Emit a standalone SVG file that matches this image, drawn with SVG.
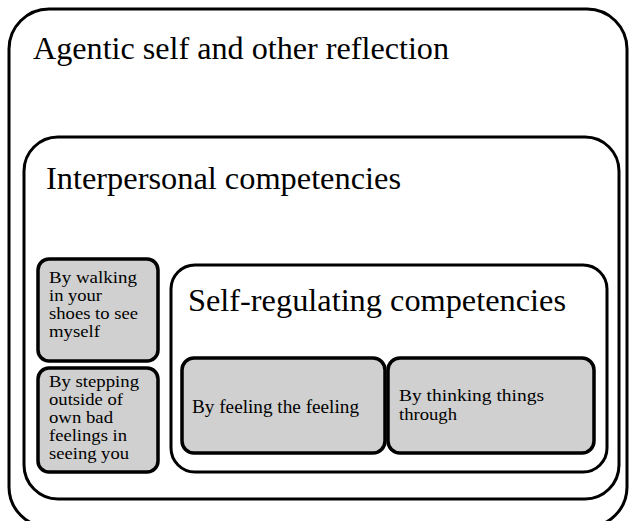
<svg xmlns="http://www.w3.org/2000/svg" width="629" height="521" viewBox="0 0 629 521">
<style>
.frame{fill:#ffffff;stroke:#000000;stroke-width:3}
.leaf{fill:#d0d0d0;stroke:#000000;stroke-width:3.5}
.big{font-family:"Liberation Serif","Times New Roman",serif;font-size:32px;fill:#000000}
.small{font-family:"Liberation Serif","Times New Roman",serif;font-size:17px;fill:#000000}
.mid{font-family:"Liberation Serif","Times New Roman",serif;font-size:18.5px;fill:#000000}
</style>
<g id="agentic">
<rect class="frame" x="9" y="9" width="618" height="518" rx="40" ry="40"/>
<text class="big" x="33" y="59" textLength="416" lengthAdjust="spacingAndGlyphs">Agentic self and other reflection</text>
</g>
<g id="interpersonal">
<rect class="frame" x="24" y="137" width="595" height="362" rx="34" ry="34"/>
<text class="big" x="46" y="189" textLength="355" lengthAdjust="spacingAndGlyphs">Interpersonal competencies</text>
</g>
<g id="walking">
<rect class="leaf" x="38" y="259" width="120" height="102" rx="11" ry="11"/>
<text class="small" x="49" y="283" textLength="88" lengthAdjust="spacingAndGlyphs">By walking</text>
<text class="small" x="49" y="301" textLength="53" lengthAdjust="spacingAndGlyphs">in your</text>
<text class="small" x="49" y="319" textLength="89" lengthAdjust="spacingAndGlyphs">shoes to see</text>
<text class="small" x="49" y="337" textLength="51" lengthAdjust="spacingAndGlyphs">myself</text>
</g>
<g id="stepping">
<rect class="leaf" x="38" y="368" width="120" height="104" rx="11" ry="11"/>
<text class="small" x="49" y="387" textLength="90" lengthAdjust="spacingAndGlyphs">By stepping</text>
<text class="small" x="49" y="405" textLength="74" lengthAdjust="spacingAndGlyphs">outside of</text>
<text class="small" x="49" y="423" textLength="64" lengthAdjust="spacingAndGlyphs">own bad</text>
<text class="small" x="49" y="441" textLength="78" lengthAdjust="spacingAndGlyphs">feelings in</text>
<text class="small" x="49" y="459" textLength="80" lengthAdjust="spacingAndGlyphs">seeing you</text>
</g>
<g id="selfregulating">
<rect class="frame" x="171" y="265" width="436" height="207" rx="24" ry="24"/>
<text class="big" x="188" y="311" textLength="378" lengthAdjust="spacingAndGlyphs">Self-regulating competencies</text>
</g>
<g id="feeling">
<rect class="leaf" x="182" y="358" width="203" height="95" rx="12" ry="12"/>
<text class="mid" x="192" y="413" textLength="167" lengthAdjust="spacingAndGlyphs">By feeling the feeling</text>
</g>
<g id="thinking">
<rect class="leaf" x="388" y="358" width="206" height="95" rx="12" ry="12"/>
<text class="small" x="399" y="401" textLength="145" lengthAdjust="spacingAndGlyphs">By thinking things</text>
<text class="small" x="399" y="420" textLength="58" lengthAdjust="spacingAndGlyphs">through</text>
</g>
<g id="connectors"/>
</svg>
